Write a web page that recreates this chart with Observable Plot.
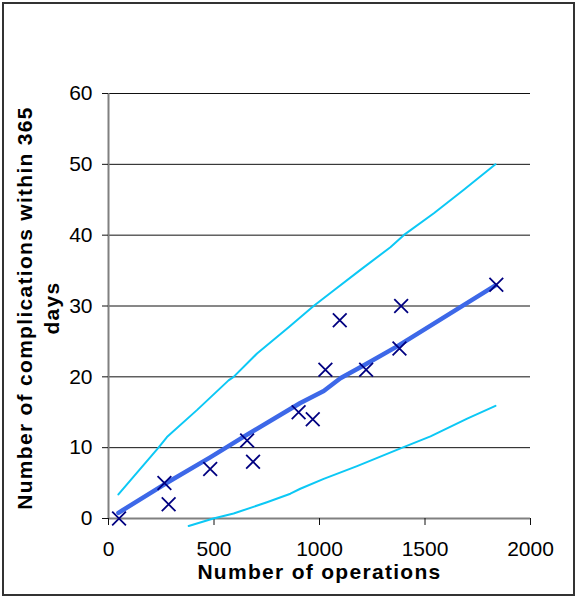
<!DOCTYPE html>
<html><head><meta charset="utf-8">
<script src="https://cdn.jsdelivr.net/npm/d3@7"></script>
<script src="https://cdn.jsdelivr.net/npm/@observablehq/plot@0.6"></script>
<style>
html,body{margin:0;padding:0;background:#fff;}
#wrap{position:relative;width:576px;height:597px;overflow:hidden;}
#chart{position:absolute;left:0;top:0;}
#frame{position:absolute;left:2px;top:2px;width:573px;height:594px;box-sizing:border-box;border:2px solid #333;pointer-events:none;}
</style></head><body>
<div id="wrap"><div id="chart"></div><div id="frame"></div></div>
<script>
// Hospitals: number of operations and complications within 365 days
const operations    = [50, 265, 285, 482, 657, 685, 901, 968, 1028, 1096, 1221, 1379, 1387, 1838];
const complications = [0, 5, 2, 7, 11, 8, 15, 14, 21, 28, 21, 24, 30, 33];

// Expected (central) line
const centerN     = [47, 269, 480, 655, 909, 1020, 1099, 1215, 1368, 1834];
const centerValue = [0.8, 4.9, 8.6, 11.8, 16.3, 18.0, 19.8, 21.7, 24.3, 32.9];

// Upper control limit
const upperN     = [47, 119, 237, 277, 419, 569, 593, 704, 854, 972, 1067, 1194, 1336, 1399, 1542, 1684, 1834];
const upperValue = [3.4, 5.9, 10.0, 11.5, 15.3, 19.5, 20.0, 23.3, 27.0, 30.0, 32.2, 35.1, 38.3, 40.0, 43.1, 46.4, 50.0];

// Lower control limit
const lowerN     = [380, 497, 593, 751, 862, 909, 1020, 1178, 1384, 1526, 1700, 1834];
const lowerValue = [-1.05, 0, 0.7, 2.3, 3.5, 4.2, 5.6, 7.4, 9.9, 11.6, 14.1, 15.9];

const xTicks = [0, 500, 1000, 1500, 2000];
const yTicks = [0, 10, 20, 30, 40, 50, 60];
const gridTicks = [10, 20, 30, 40, 50, 60];

const xTitle = "Number of operations";
const yTitle = "Number of complications within 365\ndays";

const points = operations.map((n, i) => ({n, c: complications[i]}));
const center = centerN.map((n, i) => ({n, v: centerValue[i]}));
const upper = upperN.map((n, i) => ({n, v: upperValue[i]}));
const lower = lowerN.map((n, i) => ({n, v: lowerValue[i]}));

const font = "'Liberation Sans', Arial, sans-serif";

const chart = Plot.plot({
  width: 576,
  height: 597,
  marginLeft: 108,
  marginRight: 46,
  marginTop: 93,
  marginBottom: 79,
  style: {fontFamily: font, fontSize: "21px", color: "#000", background: "transparent"},
  x: {domain: [0, 2000]},
  y: {domain: [0, 60]},
  marks: [
    Plot.gridY(gridTicks, {stroke: "#111", strokeOpacity: 1, strokeWidth: 1}),
    Plot.ruleX([0], {stroke: "#808080", strokeWidth: 2}),
    Plot.ruleY([0], {stroke: "#808080", strokeWidth: 2}),
    Plot.axisY(yTicks, {tickSize: 6, tickPadding: 10, stroke: "#111", fill: "#000", fontSize: 21, label: null, tickFormat: d3.format("d")}),
    Plot.axisX(xTicks, {tickSize: 7, tickPadding: 16, stroke: "#111", fill: "#000", fontSize: 21, label: null, tickFormat: d3.format("d")}),
    Plot.line(upper, {x: "n", y: "v", stroke: "#0cc8f5", strokeWidth: 2}),
    Plot.line(lower, {x: "n", y: "v", stroke: "#0cc8f5", strokeWidth: 2}),
    Plot.line(center, {x: "n", y: "v", stroke: "#3d68e8", strokeWidth: 4.5}),
    Plot.dot(points, {x: "n", y: "c", symbol: "times", r: 6.3, stroke: "#000080", strokeWidth: 1.8}),
    Plot.text([xTitle], {frameAnchor: "bottom", dy: 60, lineAnchor: "bottom", textAnchor: "middle", fontWeight: "bold", fontSize: 21, fill: "#000"}),
    Plot.text([yTitle], {frameAnchor: "left", dx: -72, dy: 2, rotate: -90, textAnchor: "middle", lineAnchor: "middle", lineHeight: 1.3, fontWeight: "bold", fontSize: 21, fill: "#000"})
  ]
});
chart.querySelectorAll("text").forEach(t => {
  const fw = t.getAttribute("font-weight") || (t.parentNode && t.parentNode.getAttribute && t.parentNode.getAttribute("font-weight"));
  if (fw === "bold") t.style.letterSpacing = "1.3px";
});
document.getElementById("chart").appendChild(chart);
</script>
</body></html>
